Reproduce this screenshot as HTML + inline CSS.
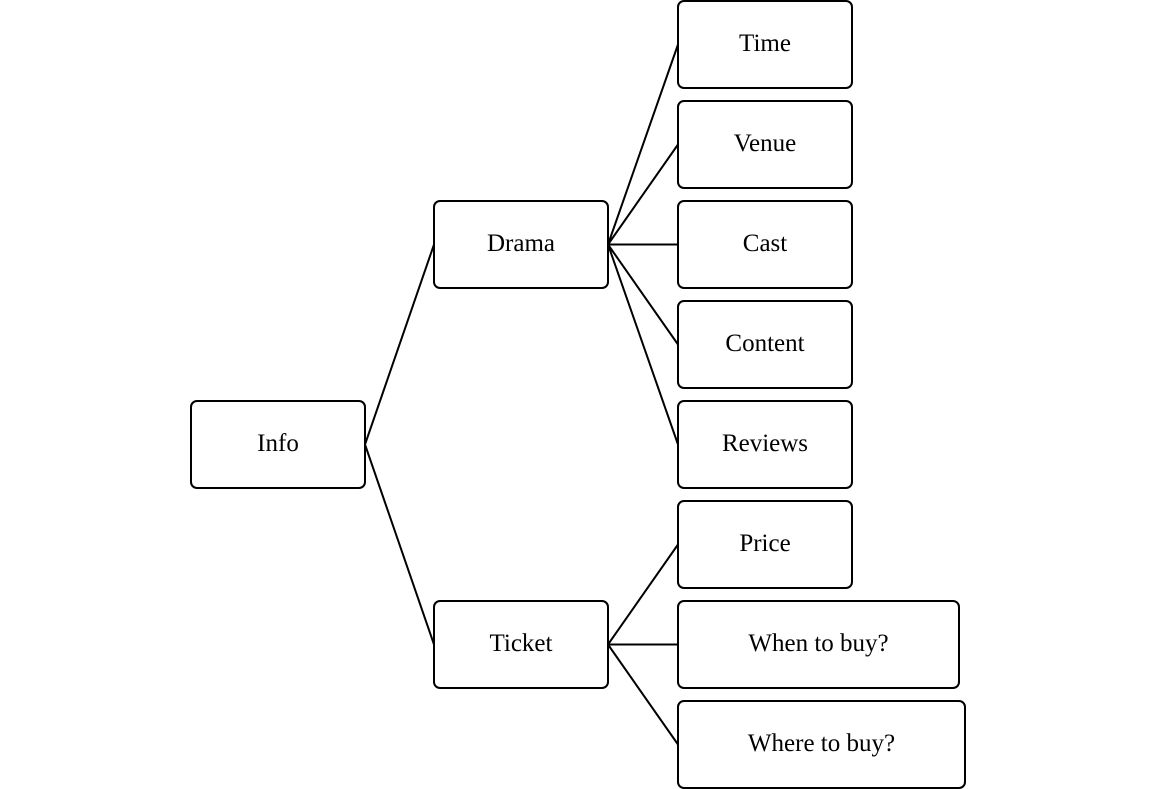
<!DOCTYPE html>
<html><head><meta charset="utf-8"><style>html,body{margin:0;padding:0;background:#fff}svg{display:block}</style></head>
<body>
<svg width="1156" height="789" viewBox="0 0 1156 789" xmlns="http://www.w3.org/2000/svg">
<g stroke="#000" stroke-width="2" fill="none">
<path d="M365 444.5L434 244.5M365 444.5L434 644.5"/>
<path d="M608 244.5L678 44.5M608 244.5L678 144.5M608 244.5L678 244.5M608 244.5L678 344.5M608 244.5L678 444.5"/>
<path d="M608 644.5L678 544.5M608 644.5L678 644.5M608 644.5L678 744.5"/>
<rect x="191" y="401" width="174" height="87" rx="6"/>
<rect x="434" y="201" width="174" height="87" rx="6"/>
<rect x="434" y="601" width="174" height="87" rx="6"/>
<rect x="678" y="1" width="174" height="87" rx="6"/>
<rect x="678" y="101" width="174" height="87" rx="6"/>
<rect x="678" y="201" width="174" height="87" rx="6"/>
<rect x="678" y="301" width="174" height="87" rx="6"/>
<rect x="678" y="401" width="174" height="87" rx="6"/>
<rect x="678" y="501" width="174" height="87" rx="6"/>
<rect x="678" y="601" width="281" height="87" rx="6"/>
<rect x="678" y="701" width="287" height="87" rx="6"/>
</g>
<g font-family="Liberation Serif, serif" font-size="25" text-anchor="middle" fill="#000">
<text x="278" y="451">Info</text>
<text x="521" y="251">Drama</text>
<text x="521" y="651">Ticket</text>
<text x="765" y="51">Time</text>
<text x="765" y="151">Venue</text>
<text x="765" y="251">Cast</text>
<text x="765" y="351">Content</text>
<text x="765" y="451">Reviews</text>
<text x="765" y="551">Price</text>
<text x="818.5" y="651">When to buy?</text>
<text x="821.5" y="751">Where to buy?</text>
</g>
</svg>
</body></html>
